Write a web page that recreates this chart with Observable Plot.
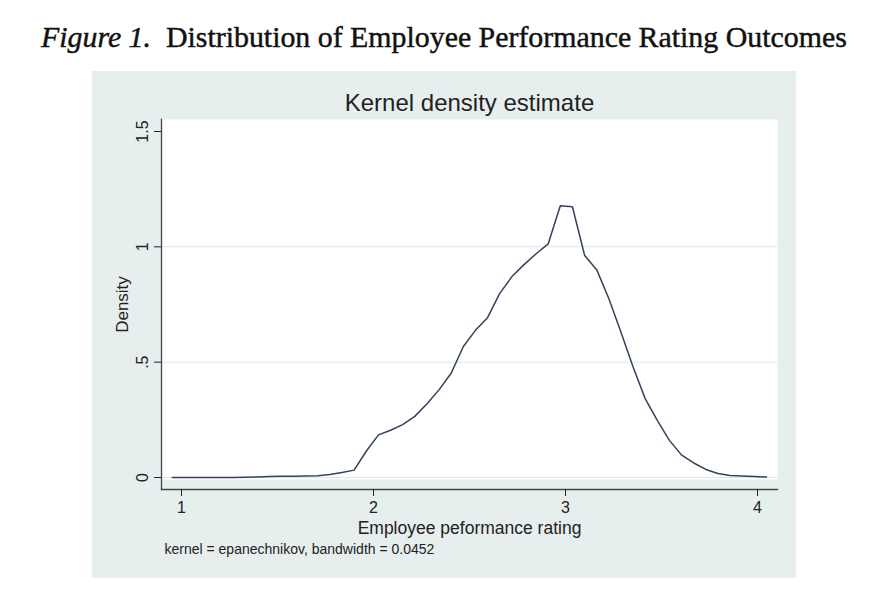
<!DOCTYPE html>
<html>
<head>
<meta charset="utf-8">
<script src="https://cdn.jsdelivr.net/npm/d3@7"></script>
<script src="https://cdn.jsdelivr.net/npm/@observablehq/plot@0.6"></script>
<style>
  html, body { margin: 0; padding: 0; background: #ffffff; }
  body { width: 895px; height: 615px; position: relative; overflow: hidden; font-family: "Liberation Sans", Arial, sans-serif; }
  #figtitle { position: absolute; left: 41px; top: 22px; white-space: nowrap; font-family: "Liberation Serif", "DejaVu Serif", serif; font-size: 28px; line-height: 1; color: #111; -webkit-text-stroke: 0.45px #111; }
  #panel { position: absolute; left: 92px; top: 71px; width: 704px; height: 507px; background: #e7eeee; }
  #panel svg { display: block; }
</style>
</head>
<body>
<div id="figtitle"><i>Figure 1.</i>&nbsp; Distribution of Employee Performance Rating Outcomes</div>
<div id="panel"></div>
<script>
// ---- data ----
const rating = [0.952,1.015,1.078,1.141,1.205,1.268,1.331,1.394,1.457,1.520,
                1.583,1.647,1.710,1.773,1.836,1.899,1.963,2.026,2.089,2.152,
                2.215,2.279,2.342,2.405,2.468,2.531,2.594,2.657,2.721,2.784,
                2.847,2.910,2.973,3.036,3.100,3.163,3.226,3.289,3.352,3.415,
                3.478,3.541,3.605,3.668,3.731,3.794,3.857,3.920,3.984,4.047];
const density = [0.000,0.000,0.000,0.000,0.000,0.000,0.001,0.002,0.004,0.005,
                 0.005,0.006,0.008,0.013,0.022,0.032,0.115,0.185,0.205,0.229,
                 0.265,0.320,0.381,0.453,0.568,0.638,0.693,0.797,0.871,0.923,
                 0.970,1.013,1.178,1.174,0.962,0.900,0.775,0.630,0.479,0.342,
                 0.248,0.161,0.097,0.063,0.035,0.017,0.009,0.006,0.004,0.002];
const xTicks = [1, 2, 3, 4];
const xTickLabels = ["1", "2", "3", "4"];
const yTicks = [0, 0.5, 1, 1.5];
const yTickLabels = ["0", ".5", "1", "1.5"];
const yGrid = [0, 0.5, 1];
const chartTitle = "Kernel density estimate";
const xLabel = "Employee peformance rating";
const yLabel = "Density";
const note = "kernel = epanechnikov, bandwidth = 0.0452";

const data = rating.map((r, i) => ({rating: r, density: density[i]}));

const chart = Plot.plot({
  width: 704,
  height: 507,
  marginLeft: 69,
  marginRight: 19,
  marginTop: 48,
  marginBottom: 89,
  style: {background: "transparent", color: "#222", fontFamily: "'Liberation Sans', Arial, sans-serif", overflow: "visible"},
  x: {domain: [1, 4], range: [89, 665]},
  y: {domain: [0, 1.5], range: [406, 60]},
  marks: [
    Plot.frame({fill: "#ffffff", stroke: "none", insetBottom: 10}),
    Plot.gridY(yGrid, {stroke: "#dce6e9", strokeOpacity: 1, strokeWidth: 1}),
    Plot.line(data, {x: "rating", y: "density", stroke: "#33425a", strokeWidth: 1.5, curve: "linear"}),
    Plot.frame({anchor: "left", stroke: "#444", strokeWidth: 1.3}),
    Plot.frame({anchor: "bottom", stroke: "#444", strokeWidth: 1.3}),
    Plot.axisX({ticks: xTicks, tickFormat: (d, i) => xTickLabels[i], tickSize: 7, tickPadding: 5, fontSize: 16, label: null, color: "#222"}),
    Plot.axisY({ticks: yTicks, tickFormat: (d, i) => yTickLabels[i], tickSize: 7, tickPadding: 7, tickRotate: -90, fontSize: 16, label: null, color: "#222"}),
    Plot.text([chartTitle], {frameAnchor: "top", dy: -16.5, lineAnchor: "middle", fontSize: 24, fill: "#222"}),
    Plot.text([xLabel], {frameAnchor: "bottom", dy: 38.5, lineAnchor: "middle", fontSize: 17.5, fill: "#222"}),
    Plot.text([yLabel], {frameAnchor: "left", dx: -39, rotate: -90, lineAnchor: "middle", textAnchor: "middle", fontSize: 17, fill: "#222"}),
    Plot.text([note], {frameAnchor: "bottom-left", dx: 3, dy: 60, lineAnchor: "middle", textAnchor: "start", fontSize: 14, fill: "#222"})
  ]
});
document.getElementById("panel").appendChild(chart);

// fit the figure title to the reference width
const t = document.getElementById("figtitle");
const w = t.getBoundingClientRect().width;
t.style.fontSize = (28 * 806 / w) + "px";
</script>
</body>
</html>
